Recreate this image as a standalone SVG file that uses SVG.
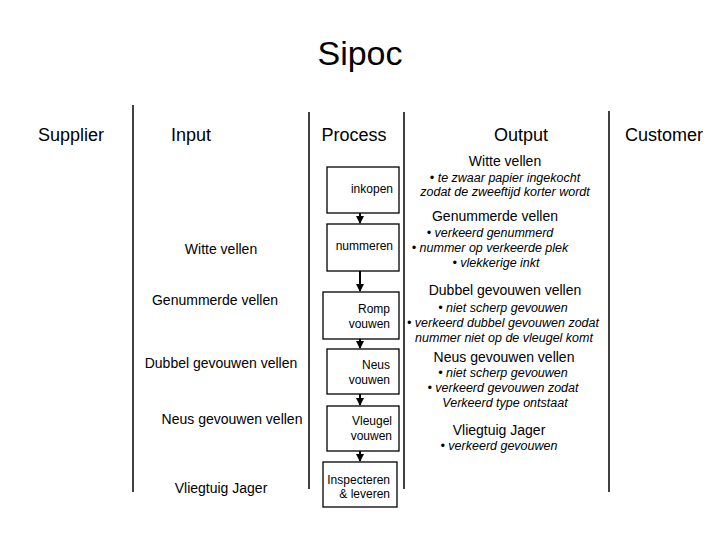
<svg xmlns="http://www.w3.org/2000/svg" width="720" height="540" viewBox="0 0 720 540">
<defs>
<style>
text{font-family:"Liberation Sans",Arial,sans-serif;fill:#000}
.title{font-size:34px;text-anchor:middle}
.hdr{font-size:18px;text-anchor:middle}
.in{font-size:14px;text-anchor:middle}
.out{font-size:14px;text-anchor:middle}
.it{font-size:12.5px;font-style:italic;text-anchor:middle}
.box rect{fill:#fff;stroke:#000;stroke-width:1.3}
.box text{font-size:12px;text-anchor:end}
.sep{stroke:#000;stroke-width:1.5}
.conn{stroke:#000;stroke-width:2;fill:none;marker-end:url(#ah)}
</style>
<marker id="ah" markerWidth="4" markerHeight="4" refX="3.5" refY="2" orient="auto" markerUnits="strokeWidth">
<path d="M0,0 L4,2 L0,4 Z" fill="#000"/>
</marker>
</defs>
<rect width="720" height="540" fill="#fff"/>
<text class="title" x="360" y="65">Sipoc</text>
<g id="headers">
<text class="hdr" x="71" y="141">Supplier</text>
<text class="hdr" x="191" y="141">Input</text>
<text class="hdr" x="354" y="141">Process</text>
<text class="hdr" x="521" y="141">Output</text>
<text class="hdr" x="664" y="141">Customer</text>
</g>
<g id="separators">
<line class="sep" x1="133" y1="105" x2="133" y2="492"/>
<line class="sep" x1="309" y1="112" x2="309" y2="489"/>
<line class="sep" x1="404" y1="112" x2="404" y2="489"/>
<line class="sep" x1="609" y1="111" x2="609" y2="492"/>
</g>
<g id="inputs">
<text class="in" x="221" y="254">Witte vellen</text>
<text class="in" x="215" y="305">Genummerde vellen</text>
<text class="in" x="221" y="368">Dubbel gevouwen vellen</text>
<text class="in" x="232" y="424">Neus gevouwen vellen</text>
<text class="in" x="221" y="493">Vliegtuig Jager</text>
</g>
<g id="connectors">
<line class="conn" x1="360" y1="213" x2="360" y2="223"/>
<line class="conn" x1="360" y1="271" x2="360" y2="291"/>
<line class="conn" x1="360" y1="339" x2="360" y2="348"/>
<line class="conn" x1="360" y1="394" x2="360" y2="405"/>
<line class="conn" x1="360" y1="451" x2="360" y2="461"/>
</g>
<g id="p-inkopen" class="box"><rect x="327" y="167" width="72" height="46"/><text x="393" y="193">inkopen</text></g>
<g id="p-nummeren" class="box"><rect x="327" y="224" width="72" height="47"/><text x="393" y="250">nummeren</text></g>
<g id="p-romp" class="box"><rect x="323" y="292" width="76" height="47"/><text x="390" y="313">Romp</text><text x="390" y="328">vouwen</text></g>
<g id="p-neus" class="box"><rect x="327" y="349" width="72" height="45"/><text x="390" y="369">Neus</text><text x="390" y="384">vouwen</text></g>
<g id="p-vleugel" class="box"><rect x="327" y="406" width="72" height="45"/><text x="392" y="425">Vleugel</text><text x="392" y="440">vouwen</text></g>
<g id="p-inspecteren" class="box"><rect x="323" y="462" width="74" height="45"/><text x="390" y="484">Inspecteren</text><text x="390" y="498">&amp; leveren</text></g>
<g id="outputs">
<text class="out" x="505" y="166">Witte vellen</text>
<text class="it" x="505" y="182">• te zwaar papier ingekocht</text>
<text class="it" x="505" y="196">zodat de zweeftijd korter wordt</text>
<text class="out" x="495" y="221">Genummerde vellen</text>
<text class="it" x="490" y="237">• verkeerd genummerd</text>
<text class="it" x="490" y="252">• nummer op verkeerde plek</text>
<text class="it" x="496" y="267">• vlekkerige inkt</text>
<text class="out" x="505" y="295">Dubbel gevouwen vellen</text>
<text class="it" x="503" y="312">• niet scherp gevouwen</text>
<text class="it" x="503" y="327">• verkeerd dubbel gevouwen zodat</text>
<text class="it" x="504" y="342">nummer niet op de vleugel komt</text>
<text class="out" x="504" y="362">Neus gevouwen vellen</text>
<text class="it" x="503" y="377">• niet scherp gevouwen</text>
<text class="it" x="503" y="392">• verkeerd gevouwen zodat</text>
<text class="it" x="505" y="407">Verkeerd type ontstaat</text>
<text class="out" x="499" y="435">Vliegtuig Jager</text>
<text class="it" x="499" y="450">• verkeerd gevouwen</text>
</g>
</svg>
